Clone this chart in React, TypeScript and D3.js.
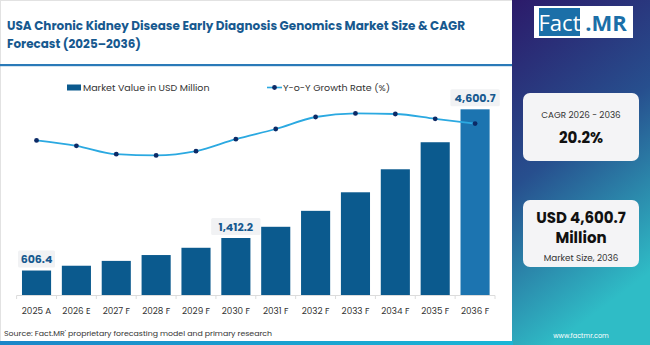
import React from "react";
import * as d3 from "d3";

const categories = ["2025 A", "2026 E", "2027 F", "2028 F", "2029 F", "2030 F", "2031 F", "2032 F", "2033 F", "2034 F", "2035 F", "2036 F"];
const marketValues = [606.4, 725, 845, 990, 1170, 1412.2, 1690, 2085, 2545, 3115, 3785, 4600.7];
const growthRates = [19.1, 18.2, 16.8, 16.6, 17.3, 19.3, 21.0, 23.0, 23.6, 23.5, 22.7, 21.9];
const labelled = ["2025 A", "2030 F", "2036 F"];

const W = 650;
const H = 345;
const FONT = "Poppins, 'Open Sans', Lato, sans-serif";
const TITLE_BLUE = "#17598f";
const BAR = "#0b5a8e";
const BAR_LAST = "#1c74b0";
const LINE = "#2ba9e1";
const DOT = "#0c2a66";

const x = d3.scaleBand<string>().domain(categories).range([16.6, 495]).paddingInner(0.27).paddingOuter(0.135);
const y = d3.scaleLinear().domain([0, 5000]).range([295, 295 - 5000 * 0.04036]);
const yG = d3.scaleLinear().domain([10, 25]).range([195, 105]);
const fmt = d3.format(",.1f");

export default function App() {
  const line = d3.line<number>()
    .x((_, i) => x(categories[i])! + x.bandwidth() / 2)
    .y(d => yG(d))
    .curve(d3.curveMonotoneX);

  const step = x.step();
  const [r0, r1] = x.range();

  return (
    <svg width={W} height={H} style={{ position: "absolute", left: 0, top: 0 }} fontFamily={FONT}>
      <defs>
        <linearGradient id="side" x1="0" y1="0" x2="0.3" y2="1">
          <stop offset="0" stopColor="#2c1a6a" />
          <stop offset="0.5" stopColor="#274f8e" />
          <stop offset="1" stopColor="#2fbcc6" />
        </linearGradient>
        <linearGradient id="bottom" x1="0" y1="0" x2="1" y2="0">
          <stop offset="0" stopColor="#1a86c8" />
          <stop offset="1" stopColor="#1bb6d6" />
        </linearGradient>
      </defs>

      {/* panels */}
      <rect x={0} y={0} width={W} height={H} fill="#fff" />
      <rect x={0.5} y={0.5} width={512} height={H} fill="none" stroke="#e2e2e2" />
      <rect x={512} y={0} width={W - 512} height={H} fill="url(#side)" />
      <rect x={0} y={64} width={512} height={2.2} fill="#2a7ab8" />
      <rect x={0} y={341} width={513} height={4} fill="url(#bottom)" />

      {/* title */}
      <text x={7} y={30} fontSize={13} fontWeight={700} fill={TITLE_BLUE} textLength={458} lengthAdjust="spacingAndGlyphs">
        USA Chronic Kidney Disease Early Diagnosis Genomics Market Size &amp; CAGR
      </text>
      <text x={7} y={48} fontSize={13} fontWeight={700} fill={TITLE_BLUE} textLength={134} lengthAdjust="spacingAndGlyphs">
        Forecast (2025–2036)
      </text>

      {/* legend */}
      <rect x={67} y={84.5} width={14} height={6} fill={BAR} />
      <text x={83} y={90.5} fontSize={9.5} fill="#333">Market Value in USD Million</text>
      <line x1={267} x2={282} y1={87.5} y2={87.5} stroke={LINE} strokeWidth={1.6} />
      <circle cx={274.5} cy={87.5} r={2.4} fill={DOT} />
      <text x={283} y={90.5} fontSize={9.5} fill="#333">Y-o-Y Growth Rate (%)</text>

      {/* bars */}
      {categories.map((c, i) => (
        <rect key={c} x={x(c)} y={y(marketValues[i])} width={x.bandwidth()} height={y(0) - y(marketValues[i])}
          fill={i === categories.length - 1 ? BAR_LAST : BAR} />
      ))}

      {/* value labels */}
      {categories.map((c, i) => {
        if (!labelled.includes(c)) return null;
        const cx = x(c)! + x.bandwidth() / 2;
        const top = y(marketValues[i]);
        const txt = fmt(marketValues[i]);
        const w = txt.length * 6.2 + 6;
        return (
          <g key={"l" + c}>
            <rect x={cx - w / 2} y={top - 20} width={w} height={17} rx={1.5} fill="#f1f2f4" />
            <text x={cx} y={top - 7.5} textAnchor="middle" fontSize={11} fontWeight={700} fill={TITLE_BLUE}>{txt}</text>
          </g>
        );
      })}

      {/* axis */}
      <line x1={r0} x2={r1} y1={295.5} y2={295.5} stroke="#dcdcdc" />
      {d3.range(categories.length + 1).map(i => (
        <line key={"t" + i} x1={r0 + i * step} x2={r0 + i * step} y1={295.5} y2={299} stroke="#dcdcdc" />
      ))}
      {categories.map(c => (
        <text key={"x" + c} x={x(c)! + x.bandwidth() / 2} y={313.5} textAnchor="middle" fontSize={8.8} fill="#333">{c}</text>
      ))}

      {/* growth line */}
      <path d={line(growthRates) || ""} fill="none" stroke={LINE} strokeWidth={1.8} />
      {growthRates.map((g, i) => (
        <circle key={"d" + i} cx={x(categories[i])! + x.bandwidth() / 2} cy={yG(g)} r={2.4} fill={DOT} />
      ))}

      {/* source */}
      <text x={4} y={335.5} fontSize={7.8} fill="#333">Source: Fact.MR' proprietary forecasting model and primary research</text>

      {/* sidebar */}
      <rect x={534} y={6} width={99} height={32} fill="#fff" />
      <rect x={539} y={8} width={41} height={28} fill="#1b6fa8" />
      <text x={559.5} y={31} textAnchor="middle" fontSize={22} fill="#fff" fontFamily="'Open Sans', sans-serif">Fact</text>
      <text x={606} y={31} textAnchor="middle" fontSize={22} fontWeight={700} fill="#1b6fa8" fontFamily="'Open Sans', sans-serif">.MR</text>

      <rect x={523} y={93} width={116} height={68} rx={7} fill="#f4f4f6" />
      <text x={581} y={117.5} textAnchor="middle" fontSize={8.8} fill="#333">CAGR 2026 - 2036</text>
      <text x={581} y={143} textAnchor="middle" fontSize={15} fontWeight={700} fill="#111">20.2%</text>

      <rect x={523} y={200} width={116} height={67} rx={7} fill="#f4f4f6" />
      <text x={581} y={223} textAnchor="middle" fontSize={15} fontWeight={700} fill="#111">USD 4,600.7</text>
      <text x={581} y={243} textAnchor="middle" fontSize={15} fontWeight={700} fill="#111">Million</text>
      <text x={581} y={261} textAnchor="middle" fontSize={8.8} fill="#333">Market Size, 2036</text>

      <text x={581} y={338} textAnchor="middle" fontSize={6.5} fill="#fff">www.factmr.com</text>
    </svg>
  );
}
